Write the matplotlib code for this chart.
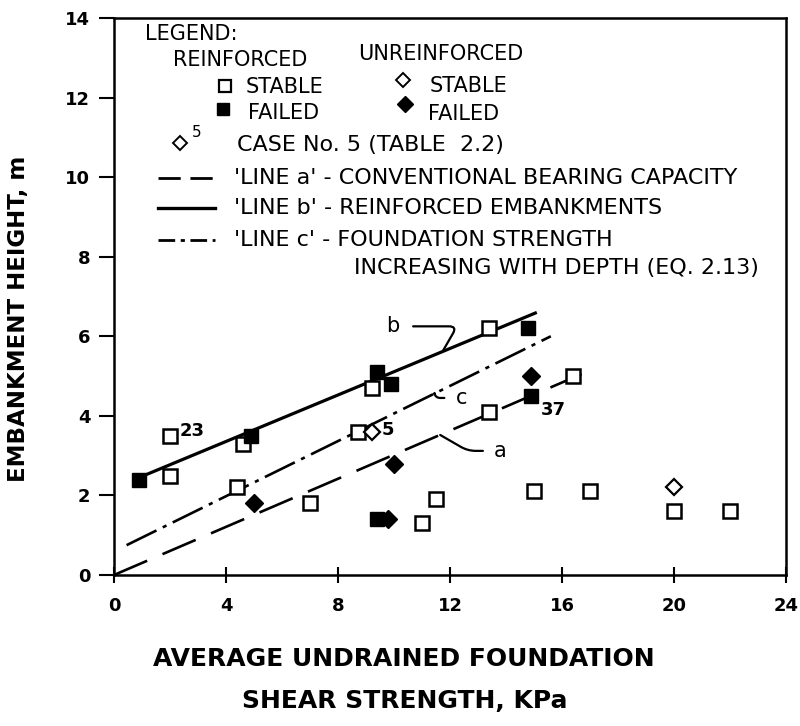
import matplotlib
matplotlib.use("Agg")
import matplotlib.pyplot as plt

plt.rcParams["lines.scale_dashes"] = False

# ---- data ----
reinf_stable_x = [2.0, 2.0, 4.6, 4.4, 7.0, 8.7, 9.2, 11.0, 11.5, 13.4, 13.4, 15.0, 16.4, 17.0, 20.0, 22.0]
reinf_stable_y = [2.5, 3.5, 3.3, 2.2, 1.8, 3.6, 4.7, 1.3, 1.9, 6.2, 4.1, 2.1, 5.0, 2.1, 1.6, 1.6]
reinf_failed_x = [0.9, 4.9, 9.4, 9.9, 14.8, 14.9, 9.4]
reinf_failed_y = [2.4, 3.5, 5.1, 4.8, 6.2, 4.5, 1.4]
unreinf_stable_x = [9.2, 20.0]
unreinf_stable_y = [3.6, 2.2]
unreinf_failed_x = [5.0, 10.0, 14.9, 9.8]
unreinf_failed_y = [1.8, 2.8, 5.0, 1.4]

line_a_x = [0.0, 16.7]
line_a_y = [0.0, 5.05]
line_b_x = [0.9, 15.1]
line_b_y = [2.45, 6.6]
line_c_x = [0.45, 15.6]
line_c_y = [0.75, 6.0]

point_labels = ["23", "5", "37"]
point_label_xy = [(2.0, 3.5), (9.2, 3.6), (14.9, 4.5)]

x_ticks = [0, 4, 8, 12, 16, 20, 24]
y_ticks = [0, 2, 4, 6, 8, 10, 12, 14]

fig = plt.figure(figsize=(8.0, 7.26), dpi=100)
ax = fig.add_axes([114/800, 1-575/726, 672/800, 557/726])
ax.set_xlim(0, 24)
ax.set_ylim(0, 14)

# lines
ax.plot(line_b_x, line_b_y, color="black", lw=2.3, solid_capstyle="butt")
ax.plot(line_a_x, line_a_y, color="black", lw=1.9, dashes=(26, 12))
ax.plot(line_c_x, line_c_y, color="black", lw=1.9, dashes=(24, 5, 3, 5))

ms = 10
ax.plot(reinf_stable_x, reinf_stable_y, "s", ms=ms, mfc="white", mec="black", mew=1.8, ls="none")
ax.plot(reinf_failed_x, reinf_failed_y, "s", ms=ms, mfc="black", mec="black", ls="none")
ax.plot(unreinf_stable_x, unreinf_stable_y, "D", ms=8, mfc="white", mec="black", mew=1.6, ls="none")
ax.plot(unreinf_failed_x, unreinf_failed_y, "D", ms=9, mfc="black", mec="black", ls="none")

lab_font = dict(family="DejaVu Sans", fontweight="bold", fontsize=13)
offsets = [(0.35, 0.12), (0.35, 0.05), (0.35, -0.35)]
for t, (px, py), (dx, dy) in zip(point_labels, point_label_xy, offsets):
    ax.text(px + dx, py + dy, t, ha="left", va="center", **lab_font)

# leader labels a, b, c
ax.annotate("b", xy=(11.76, 5.65), xytext=(9.95, 6.25), fontsize=15, family="DejaVu Sans",
            ha="center", va="center",
            arrowprops=dict(arrowstyle="-", lw=1.6, color="black",
                            connectionstyle="angle,angleA=0,angleB=60,rad=8",
                            shrinkA=8, shrinkB=0))
ax.annotate("c", xy=(11.45, 4.55), xytext=(12.4, 4.45), fontsize=15, family="DejaVu Sans",
            ha="center", va="center",
            arrowprops=dict(arrowstyle="-", lw=1.6, color="black",
                            connectionstyle="angle,angleA=180,angleB=-80,rad=5",
                            shrinkA=6, shrinkB=0))
ax.annotate("a", xy=(11.65, 3.52), xytext=(13.8, 3.12), fontsize=15, family="DejaVu Sans",
            ha="center", va="center",
            arrowprops=dict(arrowstyle="-", lw=1.6, color="black",
                            connectionstyle="angle,angleA=180,angleB=-30,rad=8",
                            shrinkA=6, shrinkB=0))

# ---- legend (drawn manually) ----
T = ax.transAxes
lf = dict(family="DejaVu Sans", fontsize=15, va="center", ha="left", transform=T)
lf2 = dict(lf, fontsize=16)
ax.text(0.046, 0.971, "LEGEND:", **lf)
ax.text(0.088, 0.925, "REINFORCED", **lf)
ax.text(0.363, 0.935, "UNREINFORCED", **lf)
ax.plot([0.165], [0.878], "s", ms=8, mfc="white", mec="black", mew=1.6, transform=T, clip_on=False)
ax.text(0.196, 0.876, "STABLE", **lf)
ax.plot([0.430], [0.889], "D", ms=7, mfc="white", mec="black", mew=1.4, transform=T, clip_on=False)
ax.text(0.470, 0.878, "STABLE", **lf)
ax.plot([0.162], [0.837], "s", ms=8, mfc="black", mec="black", transform=T, clip_on=False)
ax.text(0.199, 0.829, "FAILED", **lf)
ax.plot([0.433], [0.846], "D", ms=8, mfc="black", mec="black", transform=T, clip_on=False)
ax.text(0.467, 0.828, "FAILED", **lf)
ax.plot([0.098], [0.776], "D", ms=7, mfc="white", mec="black", mew=1.4, transform=T, clip_on=False)
ax.text(0.116, 0.795, "5", family="DejaVu Sans", fontsize=11, va="center", ha="left", transform=T)
ax.text(0.183, 0.772, "CASE No. 5 (TABLE  2.2)", **lf2)
ax.plot([0.065, 0.150], [0.713, 0.713], color="black", lw=2.0, dashes=(16, 7), transform=T)
ax.text(0.179, 0.713, "'LINE a' - CONVENTIONAL BEARING CAPACITY", **lf2)
ax.plot([0.065, 0.150], [0.659, 0.659], color="black", lw=2.4, transform=T)
ax.text(0.179, 0.659, "'LINE b' - REINFORCED EMBANKMENTS", **lf2)
ax.plot([0.065, 0.150], [0.601, 0.601], color="black", lw=2.0, dashes=(12, 4, 3, 4), transform=T)
ax.text(0.179, 0.601, "'LINE c' - FOUNDATION STRENGTH", **lf2)
ax.text(0.357, 0.551, "INCREASING WITH DEPTH (EQ. 2.13)", **lf2)

# ---- axes styling ----
for s in ax.spines.values():
    s.set_linewidth(1.8)
ax.set_xticks(x_ticks)
ax.set_yticks(y_ticks)
ax.set_xticklabels([str(v) for v in x_ticks], family="DejaVu Sans", fontweight="bold", fontsize=13)
ax.set_yticklabels([str(v) for v in y_ticks], family="DejaVu Sans", fontweight="bold", fontsize=13)
ax.tick_params(axis="x", direction="inout", length=12, width=1.5, pad=10)
ax.tick_params(axis="y", direction="out", length=11, width=1.5, pad=6)

ax.set_ylabel("EMBANKMENT HEIGHT, m", family="DejaVu Sans", fontweight="bold", fontsize=16.5)
ax.yaxis.set_label_coords(-0.125, 0.46)
ax.set_xlabel("AVERAGE UNDRAINED FOUNDATION\nSHEAR STRENGTH, KPa", family="DejaVu Sans",
              fontweight="bold", fontsize=18, linespacing=1.9)
ax.xaxis.set_label_coords(0.432, -0.13)
ax.xaxis.label.set_va("top")

fig.savefig("out.png", dpi=100)
